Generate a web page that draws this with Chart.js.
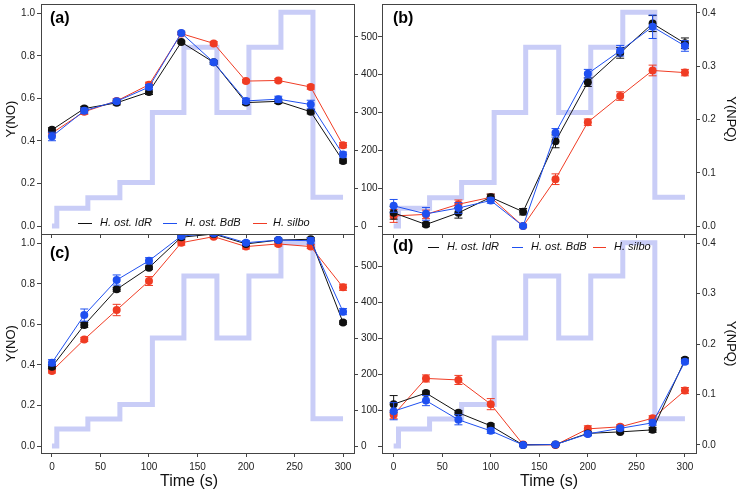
<!DOCTYPE html>
<html>
<head>
    <title>Y(NO) and Y(NPQ) under stepped light</title>
    <script src="https://cdn.jsdelivr.net/npm/chart.js"></script>
    <style>
        body {
            margin: 0;
            background: #fff;
        }
        #wrap {
            position: relative;
            width: 738px;
            height: 491px;
        }
        #wrap canvas {
            position: absolute;
            left: 0;
            top: 0;
        }
    </style>
</head>
<body>
    <div id="wrap">
        <canvas id="pa" width="738" height="491"></canvas>
        <canvas id="pb" width="738" height="491"></canvas>
        <canvas id="pc" width="738" height="491"></canvas>
        <canvas id="pd" width="738" height="491"></canvas>
    </div>

    <script>
        // sampling times (s)
        const times = [0, 33.3, 66.7, 100, 133.3, 166.7, 200, 233.3, 266.7, 300];
        const seriesNames = ['H. ost. IdR', 'H. ost. BdB', 'H. silbo'];

        // tick values
        const timeTicks = [0, 50, 100, 150, 200, 250, 300];
        const noTicks = [0, 0.2, 0.4, 0.6, 0.8, 1.0];
        const parTicks = [0, 100, 200, 300, 400, 500];
        const npqTicks = [0, 0.1, 0.2, 0.3, 0.4];

        // light protocol (PAR) drawn as a step line
        const stepTimes = [0, 5, 37, 70, 103.5, 136, 170, 203, 236, 269, 300];
        const parValues = [0, 47, 75, 115, 300, 472, 300, 472, 565, 76, 76];

        // (a) Y(NO)
        const noIdrA = [0.452, 0.552, 0.579, 0.630, 0.864, 0.769, 0.580, 0.586, 0.537, 0.306];
        const noBdbA = [0.421, 0.542, 0.586, 0.653, 0.907, 0.769, 0.588, 0.596, 0.571, 0.336];
        const noSilA = [0.437, 0.537, 0.588, 0.664, 0.904, 0.858, 0.681, 0.684, 0.653, 0.380];
        const noIdrAErr = [0.010, 0.010, 0.010, 0.012, 0.005, 0.008, 0.010, 0.010, 0.010, 0.010];
        const noBdbAErr = [0.020, 0.012, 0.010, 0.012, 0.008, 0.010, 0.012, 0.014, 0.020, 0.012];
        const noSilAErr = [0.012, 0.012, 0.010, 0.012, 0.005, 0.008, 0.008, 0.008, 0.010, 0.012];

        // (b) Y(NPQ)
        const npqIdrB = [0.025, 0.003, 0.025, 0.054, 0.027, 0.159, 0.270, 0.325, 0.380, 0.343];
        const npqBdbB = [0.038, 0.023, 0.034, 0.048, 0.000, 0.175, 0.286, 0.329, 0.374, 0.338];
        const npqSilB = [0.019, 0.022, 0.041, 0.054, 0.000, 0.088, 0.195, 0.244, 0.292, 0.288];
        const npqIdrBErr = [0.012, 0.004, 0.010, 0.006, 0.006, 0.012, 0.008, 0.010, 0.015, 0.010];
        const npqBdbBErr = [0.012, 0.012, 0.010, 0.005, 0.002, 0.008, 0.008, 0.010, 0.022, 0.010];
        const npqSilBErr = [0.012, 0.008, 0.008, 0.006, 0.002, 0.010, 0.006, 0.008, 0.010, 0.006];

        // (c) Y(NO)
        const noIdrC = [0.391, 0.597, 0.773, 0.880, 1.030, 1.046, 0.997, 1.016, 1.020, 0.609];
        const noBdbC = [0.411, 0.646, 0.819, 0.914, 1.036, 1.049, 1.003, 1.016, 1.013, 0.663];
        const noSilC = [0.370, 0.526, 0.671, 0.814, 1.003, 1.033, 0.984, 0.997, 0.984, 0.783];
        const noIdrCErr = [0.010, 0.012, 0.010, 0.008, 0.010, 0.010, 0.008, 0.008, 0.008, 0.008];
        const noBdbCErr = [0.015, 0.030, 0.025, 0.015, 0.010, 0.010, 0.010, 0.010, 0.015, 0.015];
        const noSilCErr = [0.010, 0.010, 0.028, 0.022, 0.012, 0.008, 0.012, 0.010, 0.010, 0.015];

        // (d) Y(NPQ)
        const npqIdrD = [0.081, 0.103, 0.064, 0.038, 0.000, 0.001, 0.023, 0.026, 0.030, 0.169];
        const npqBdbD = [0.067, 0.088, 0.050, 0.028, 0.000, 0.001, 0.022, 0.033, 0.044, 0.165];
        const npqSilD = [0.060, 0.132, 0.129, 0.081, 0.001, 0.000, 0.032, 0.036, 0.053, 0.108];
        const npqIdrDErr = [0.017, 0.004, 0.004, 0.004, 0.002, 0.002, 0.004, 0.003, 0.005, 0.004];
        const npqBdbDErr = [0.017, 0.010, 0.010, 0.005, 0.002, 0.002, 0.004, 0.003, 0.005, 0.004];
        const npqSilDErr = [0.008, 0.007, 0.009, 0.011, 0.002, 0.002, 0.006, 0.004, 0.005, 0.006];

        const black = '#111111';
        const blue = '#1f50f0';
        const red = '#f03c24';
        const lavender = '#c9cdf7';
        const fontFamily = '"Liberation Sans", Arial, sans-serif';

        Chart.defaults.font.family = fontFamily;
        Chart.defaults.font.size = 10;
        Chart.defaults.color = '#222';
        Chart.defaults.animation = false;

        // error bars, drawn right after each dataset
        const errorBarPlugin = {
            id: 'errorBars',
            afterDatasetDraw(chart, args) {
                const ds = chart.data.datasets[args.index];
                if (!ds.errors) return;
                const { ctx, chartArea: a } = chart;
                const yScale = chart.scales[ds.yAxisID];
                ctx.save();
                ctx.beginPath();
                ctx.rect(a.left, a.top, a.right - a.left, a.bottom - a.top);
                ctx.clip();
                ctx.strokeStyle = ds.borderColor;
                ctx.lineWidth = 1;
                args.meta.data.forEach((pt, i) => {
                    const v = ds.data[i].y;
                    const e = ds.errors[i];
                    const y1 = yScale.getPixelForValue(v - e);
                    const y2 = yScale.getPixelForValue(v + e);
                    ctx.beginPath();
                    ctx.moveTo(pt.x, y1);
                    ctx.lineTo(pt.x, y2);
                    ctx.moveTo(pt.x - 4, y1);
                    ctx.lineTo(pt.x + 4, y1);
                    ctx.moveTo(pt.x - 4, y2);
                    ctx.lineTo(pt.x + 4, y2);
                    ctx.stroke();
                });
                ctx.restore();
            }
        };

        // frame, panel letter, x title and in-plot legend
        const decorPlugin = {
            id: 'decor',
            afterDraw(chart, args, opts) {
                const { ctx, chartArea: a } = chart;
                ctx.save();
                ctx.strokeStyle = '#444';
                ctx.lineWidth = 1;
                ctx.strokeRect(a.left + 0.5, a.top + 0.5, a.right - a.left, a.bottom - a.top);
                ctx.fillStyle = '#000';
                ctx.textBaseline = 'middle';
                ctx.font = 'bold 16px ' + fontFamily;
                ctx.fillText(opts.tag, opts.tagX, opts.tagY);
                if (opts.xTitle) {
                    ctx.font = '16px ' + fontFamily;
                    ctx.textAlign = 'center';
                    ctx.fillStyle = '#111';
                    ctx.fillText(opts.xTitle, opts.xTitleX, 482);
                    ctx.textAlign = 'left';
                }
                if (opts.legend) {
                    const lg = opts.legend;
                    const colors = [black, blue, red];
                    ctx.font = 'italic 11px ' + fontFamily;
                    ctx.lineWidth = 1;
                    lg.items.forEach((it, i) => {
                        ctx.strokeStyle = colors[i];
                        ctx.beginPath();
                        ctx.moveTo(it[0], lg.y + 0.5);
                        ctx.lineTo(it[1], lg.y + 0.5);
                        ctx.stroke();
                        ctx.fillStyle = '#111';
                        ctx.fillText(seriesNames[i], it[2], lg.y);
                    });
                }
                ctx.restore();
            }
        };

        Chart.register(errorBarPlugin, decorPlugin);

        function fixedBox(size, horizontal) {
            return (s) => {
                if (horizontal) s.height = size; else s.width = size;
                s.paddingTop = 0;
                s.paddingBottom = 0;
                s.paddingLeft = 0;
                s.paddingRight = 0;
            };
        }

        function axis(position, min, max, tickVals, o) {
            return {
                type: 'linear',
                position: position,
                min: min,
                max: max,
                border: { display: false },
                grid: { drawOnChartArea: false, drawTicks: true, tickLength: 4, tickColor: '#444' },
                ticks: {
                    display: o.labels,
                    padding: o.pad || 3,
                    color: '#222',
                    callback: o.fmt || ((v) => v)
                },
                afterBuildTicks: (s) => {
                    s.ticks = tickVals.map((v) => ({ value: v }));
                },
                title: o.title ? {
                    display: true,
                    text: o.title,
                    color: '#111',
                    font: { size: o.titleSize || 13 },
                    padding: { top: o.titlePad || 0, bottom: o.titlePad || 0 }
                } : { display: false },
                afterFit: fixedBox(o.size, position === 'bottom')
            };
        }

        const oneDec = (v) => v.toFixed(1);

        function pts(vals) {
            return times.map((t, i) => ({ x: t, y: vals[i] }));
        }

        function seriesSets(vals, errs, axisId) {
            const colors = [black, blue, red];
            const sets = vals.map((v, i) => ({
                label: seriesNames[i],
                data: pts(v),
                errors: errs[i],
                yAxisID: axisId,
                borderColor: colors[i],
                backgroundColor: colors[i],
                borderWidth: 1,
                pointRadius: 4,
                pointBorderWidth: 0
            }));
            const stepSet = {
                label: 'PAR',
                data: stepTimes.map((t, i) => ({ x: t, y: parValues[i] })),
                yAxisID: axisId === 'yL' ? 'yR' : 'yL',
                borderColor: lavender,
                borderWidth: 5,
                pointRadius: 0,
                stepped: 'before'
            };
            // blue on top, then black, then red, light steps underneath
            return [sets[1], sets[0], sets[2], stepSet];
        }

        function panel(id, cfg) {
            return new Chart(document.getElementById(id), {
                type: 'line',
                data: { datasets: cfg.datasets },
                options: {
                    responsive: false,
                    animation: false,
                    layout: { padding: cfg.pad },
                    plugins: {
                        legend: { display: false },
                        tooltip: { enabled: false },
                        decor: cfg.decor
                    },
                    scales: {
                        x: cfg.x,
                        yL: cfg.yL,
                        yR: cfg.yR
                    }
                }
            });
        }

        // (a)
        panel('pa', {
            pad: { left: 0, right: 354, top: 1, bottom: 252 },
            datasets: seriesSets([noIdrA, noBdbA, noSilA], [noIdrAErr, noBdbAErr, noSilAErr], 'yL'),
            x: axis('bottom', -11.3, 311.3, timeTicks, { labels: false, size: 5 }),
            yL: axis('left', -0.037, 1.043, noTicks, { labels: true, size: 41, pad: 2, fmt: oneDec, title: 'Y(NO)', titlePad: 4 }),
            yR: axis('right', -20.9, 586.5, parTicks, { labels: true, size: 30, pad: 3 }),
            decor: {
                tag: '(a)', tagX: 50, tagY: 19,
                legend: { y: 223, items: [[78, 92, 100], [163, 177, 185], [253, 267, 273]] }
            }
        });

        // (b)
        panel('pb', {
            pad: { left: 374, right: 0, top: 1, bottom: 252 },
            datasets: seriesSets([npqIdrB, npqBdbB, npqSilB], [npqIdrBErr, npqBdbBErr, npqSilBErr], 'yR'),
            x: axis('bottom', -12, 311.4, timeTicks, { labels: false, size: 5 }),
            yL: axis('left', -20.9, 586.5, parTicks, { labels: false, size: 8 }),
            yR: axis('right', -0.0148, 0.4167, npqTicks, { labels: true, size: 42, pad: 2, fmt: oneDec, title: 'Y(NPQ)' }),
            decor: { tag: '(b)', tagX: 393, tagY: 19 }
        });

        // (c)
        panel('pc', {
            pad: { left: 0, right: 354, top: 234, bottom: 0 },
            datasets: seriesSets([noIdrC, noBdbC, noSilC], [noIdrCErr, noBdbCErr, noSilCErr], 'yL'),
            x: axis('bottom', -11.3, 311.3, timeTicks, { labels: true, size: 38, pad: 4 }),
            yL: axis('left', -0.0345, 1.046, noTicks, { labels: true, size: 41, pad: 2, fmt: oneDec, title: 'Y(NO)', titlePad: 4 }),
            yR: axis('right', -19.4, 589, parTicks, { labels: true, size: 30, pad: 3 }),
            decor: { tag: '(c)', tagX: 50, tagY: 254, xTitle: 'Time (s)', xTitleX: 189 }
        });

        // (d)
        panel('pd', {
            pad: { left: 374, right: 0, top: 234, bottom: 0 },
            datasets: seriesSets([npqIdrD, npqBdbD, npqSilD], [npqIdrDErr, npqBdbDErr, npqSilDErr], 'yR'),
            x: axis('bottom', -12, 311.4, timeTicks, { labels: true, size: 38, pad: 4 }),
            yL: axis('left', -19.4, 589, parTicks, { labels: false, size: 8 }),
            yR: axis('right', -0.0159, 0.4185, npqTicks, { labels: true, size: 42, pad: 2, fmt: oneDec, title: 'Y(NPQ)' }),
            decor: {
                tag: '(d)', tagX: 393, tagY: 247, xTitle: 'Time (s)', xTitleX: 549,
                legend: { y: 247, items: [[428, 439, 447], [512, 523, 531], [593, 606, 614]] }
            }
        });
    </script>
</body>
</html>
